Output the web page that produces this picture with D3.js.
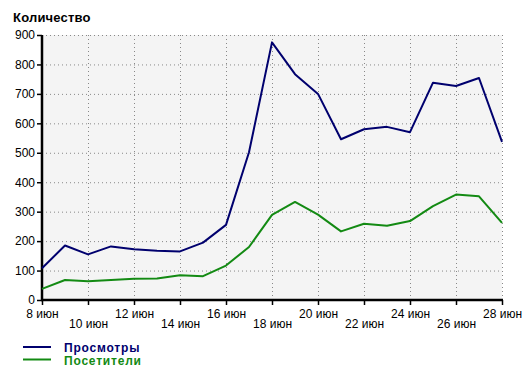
<!DOCTYPE html>
<html>
<head>
<meta charset="utf-8">
<script src="https://cdn.jsdelivr.net/npm/d3@7"></script>
<style>
  body { margin: 0; background: #fff; }
  text { font-family: "Liberation Sans", Arial, sans-serif; }
</style>
</head>
<body>
<div id="chart"></div>
<script>
// days of June, 8..28
var days = [8, 9, 10, 11, 12, 13, 14, 15, 16, 17, 18, 19, 20, 21, 22, 23, 24, 25, 26, 27, 28];
var views = [108, 185, 155, 182, 172, 167, 165, 195, 255, 502, 875, 767, 700, 546, 580, 588, 570, 738, 727, 754, 537];
var visitors = [38, 68, 64, 68, 72, 73, 84, 81, 117, 180, 289, 333, 290, 233, 259, 252, 268, 319, 358, 352, 262];
var yTicks = [0, 100, 200, 300, 400, 500, 600, 700, 800, 900];
var xTicks = [8, 10, 12, 14, 16, 18, 20, 22, 24, 26, 28];
var seriesNames = ["Просмотры", "Посетители"];
var seriesColors = ["#00006e", "#138a13"];

var W = 526, H = 376;
var margin = { top: 35, right: 24, bottom: 76, left: 42 };
var width = W - margin.left - margin.right,
  height = H - margin.top - margin.bottom;

var svg = d3.select("#chart")
  .append("svg")
  .attr("width", W)
  .attr("height", H);

svg.append("text")
  .attr("x", 13)
  .attr("y", 21.5)
  .attr("font-size", "13px")
  .attr("font-weight", "bold")
  .attr("letter-spacing", "0.2px")
  .text("Количество");

var g = svg.append("g")
  .attr("transform", "translate(" + margin.left + "," + margin.top + ")");

var x = d3.scaleLinear().domain([8, 28]).range([0, width]);
var y = d3.scaleLinear().domain([0, 900]).range([height, 0]);

// plot background
g.append("rect")
  .attr("width", width)
  .attr("height", height)
  .attr("fill", "#f4f4f4");

// dotted grid
g.selectAll(".hgrid")
  .data(yTicks.filter(d => d > 0))
  .enter()
  .append("line")
  .attr("x1", 0)
  .attr("x2", width)
  .attr("y1", d => y(d) + 0.5)
  .attr("y2", d => y(d) + 0.5)
  .attr("stroke", "#888")
  .attr("stroke-dasharray", "1,3");

g.selectAll(".vgrid")
  .data(xTicks.filter(d => d > 8))
  .enter()
  .append("line")
  .attr("x1", d => x(d) + 0.5)
  .attr("x2", d => x(d) + 0.5)
  .attr("y1", 0)
  .attr("y2", height)
  .attr("stroke", "#888")
  .attr("stroke-dasharray", "1,3");

// y axis
var yAxis = g.append("g")
  .call(d3.axisLeft(y).tickValues(yTicks).tickSize(5).tickPadding(2));
yAxis.select(".domain").remove();
yAxis.selectAll("text").attr("font-size", "12px").attr("font-family", "Liberation Sans, Arial, sans-serif").attr("fill", "#000");
yAxis.selectAll("line").attr("stroke-width", 1.5);

// x axis
var xAxis = g.append("g")
  .attr("transform", "translate(0," + height + ")")
  .call(d3.axisBottom(x).tickValues(xTicks).tickSize(5).tickFormat(d => d + " июн"));
xAxis.select(".domain").remove();
xAxis.selectAll("line").attr("stroke-width", 1.5);
xAxis.selectAll("text")
  .attr("font-size", "12px")
  .attr("font-family", "Liberation Sans, Arial, sans-serif")
  .attr("fill", "#000")
  .attr("y", (d, i) => i % 2 === 0 ? 9.5 : 19.5);

// axis lines
g.append("line")
  .attr("x1", 0).attr("x2", 0)
  .attr("y1", 0).attr("y2", height + 1)
  .attr("stroke", "#000").attr("stroke-width", 2.5);
g.append("line")
  .attr("x1", -1).attr("x2", width + 1)
  .attr("y1", height).attr("y2", height)
  .attr("stroke", "#000").attr("stroke-width", 2.5);

// lines
var line = d3.line()
  .x((d, i) => x(days[i]))
  .y(d => y(d));

[views, visitors].forEach(function (s, k) {
  g.append("path")
    .datum(s)
    .attr("d", line)
    .attr("fill", "none")
    .attr("stroke", seriesColors[k])
    .attr("stroke-width", 2)
    .attr("stroke-linejoin", "round");
});

// legend
var legend = svg.selectAll(".legend")
  .data(seriesNames)
  .enter()
  .append("g")
  .attr("transform", (d, i) => "translate(23," + (347 + i * 12.5) + ")");

legend.append("line")
  .attr("x1", 0).attr("x2", 28)
  .attr("stroke", (d, i) => seriesColors[i])
  .attr("stroke-width", 2);

legend.append("text")
  .attr("x", 41)
  .attr("y", 5)
  .attr("font-size", "12px")
  .attr("font-weight", "bold")
  .attr("letter-spacing", "0.8px")
  .attr("fill", (d, i) => seriesColors[i])
  .text(d => d);
</script>
</body>
</html>
